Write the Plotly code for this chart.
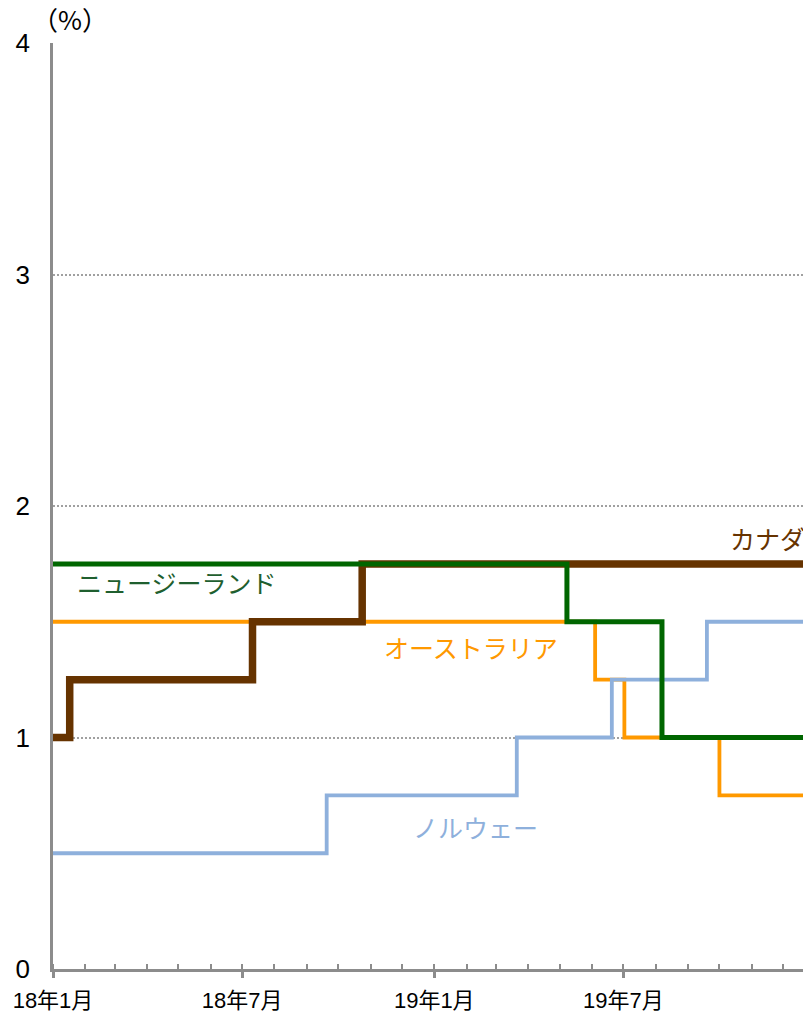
import plotly.graph_objects as go

# policy rates (%), step changes
canada_dates = ["2018-01-01", "2018-01-17", "2018-07-11", "2018-10-24", "2020-01-31"]
canada_rate = [1.0, 1.25, 1.5, 1.75, 1.75]

nz_dates = ["2018-01-01", "2019-05-08", "2019-08-07", "2020-01-31"]
nz_rate = [1.75, 1.5, 1.0, 1.0]

aus_dates = ["2018-01-01", "2019-06-04", "2019-07-02", "2019-10-01", "2020-01-31"]
aus_rate = [1.5, 1.25, 1.0, 0.75, 0.75]

nor_dates = ["2018-01-01", "2018-09-20", "2019-03-21", "2019-06-20", "2019-09-19", "2020-01-31"]
nor_rate = [0.5, 0.75, 1.0, 1.25, 1.5, 1.5]

tick_vals = ["2018-01-01", "2018-07-01", "2019-01-01", "2019-07-01"]
tick_text = ["18年1月", "18年7月", "19年1月", "19年7月"]

JP = "Noto Sans CJK JP"
AXIS = "#8c8c8c"

fig = go.Figure()
fig.add_trace(go.Scatter(x=aus_dates, y=aus_rate, mode="lines", line_shape="hv",
                         line=dict(color="#FF9900", width=3.8)))
fig.add_trace(go.Scatter(x=nor_dates, y=nor_rate, mode="lines", line_shape="hv",
                         line=dict(color="#8EB0DC", width=3.8)))
fig.add_trace(go.Scatter(x=canada_dates, y=canada_rate, mode="lines", line_shape="hv",
                         line=dict(color="#663300", width=7.5)))
fig.add_trace(go.Scatter(x=nz_dates, y=nz_rate, mode="lines", line_shape="hv",
                         line=dict(color="#006600", width=5)))

# the Canada label runs off the right edge, as in the source chart
labels = [
    ("カナダ", "2019-10-09", 1.862, "#663300"),
    ("ニュージーランド", "2018-01-22", 1.67, "#1F5F2F"),
    ("オーストラリア", "2018-11-12", 1.39, "#FF9900"),
    ("ノルウェー", "2018-12-10", 0.615, "#8EB0DC"),
]
for text, x, y, color in labels:
    fig.add_annotation(x=x, y=y, text=text, showarrow=False, xanchor="left",
                       font=dict(family=JP, size=25, color=color))

fig.add_annotation(xref="paper", yref="paper", x=-0.031, y=1.0, yshift=25,
                   text="（%）", showarrow=False, xanchor="left", yanchor="middle",
                   font=dict(family=JP, size=26, color="black"))

fig.update_layout(
    width=803, height=1012,
    margin=dict(l=53, r=0, t=43, b=43),
    plot_bgcolor="white", paper_bgcolor="white",
    showlegend=False,
    xaxis=dict(
        type="date", range=["2018-01-01", "2019-12-20"],
        tickvals=tick_vals, ticktext=tick_text,
        ticks="outside", ticklen=6, tickwidth=2.5, tickcolor=AXIS,
        ticklabelstandoff=4,
        minor=dict(dtick="M1", tick0="2018-01-01", ticks="inside", ticklen=5,
                   tickwidth=2, tickcolor=AXIS, showgrid=False),
        showgrid=False, showline=True, linecolor=AXIS, linewidth=2.5,
        tickfont=dict(family="Arial, " + JP, size=22, color="black"),
        zeroline=False,
    ),
    yaxis=dict(
        range=[0, 4], tickvals=[0, 1, 2, 3, 4],
        showline=True, linecolor=AXIS, linewidth=2.5,
        showgrid=True, gridcolor="#a0a0a0", gridwidth=1.5, griddash="2px,2px",
        ticks="", ticklabelstandoff=15,
        tickfont=dict(family="Arial", size=26, color="black"),
        zeroline=False,
    ),
)

# drop the browser's default 8px body margin so the figure fills the window
fig.write_html("out.html", config={"displayModeBar": False},
               post_script="document.body.style.margin='0';")
